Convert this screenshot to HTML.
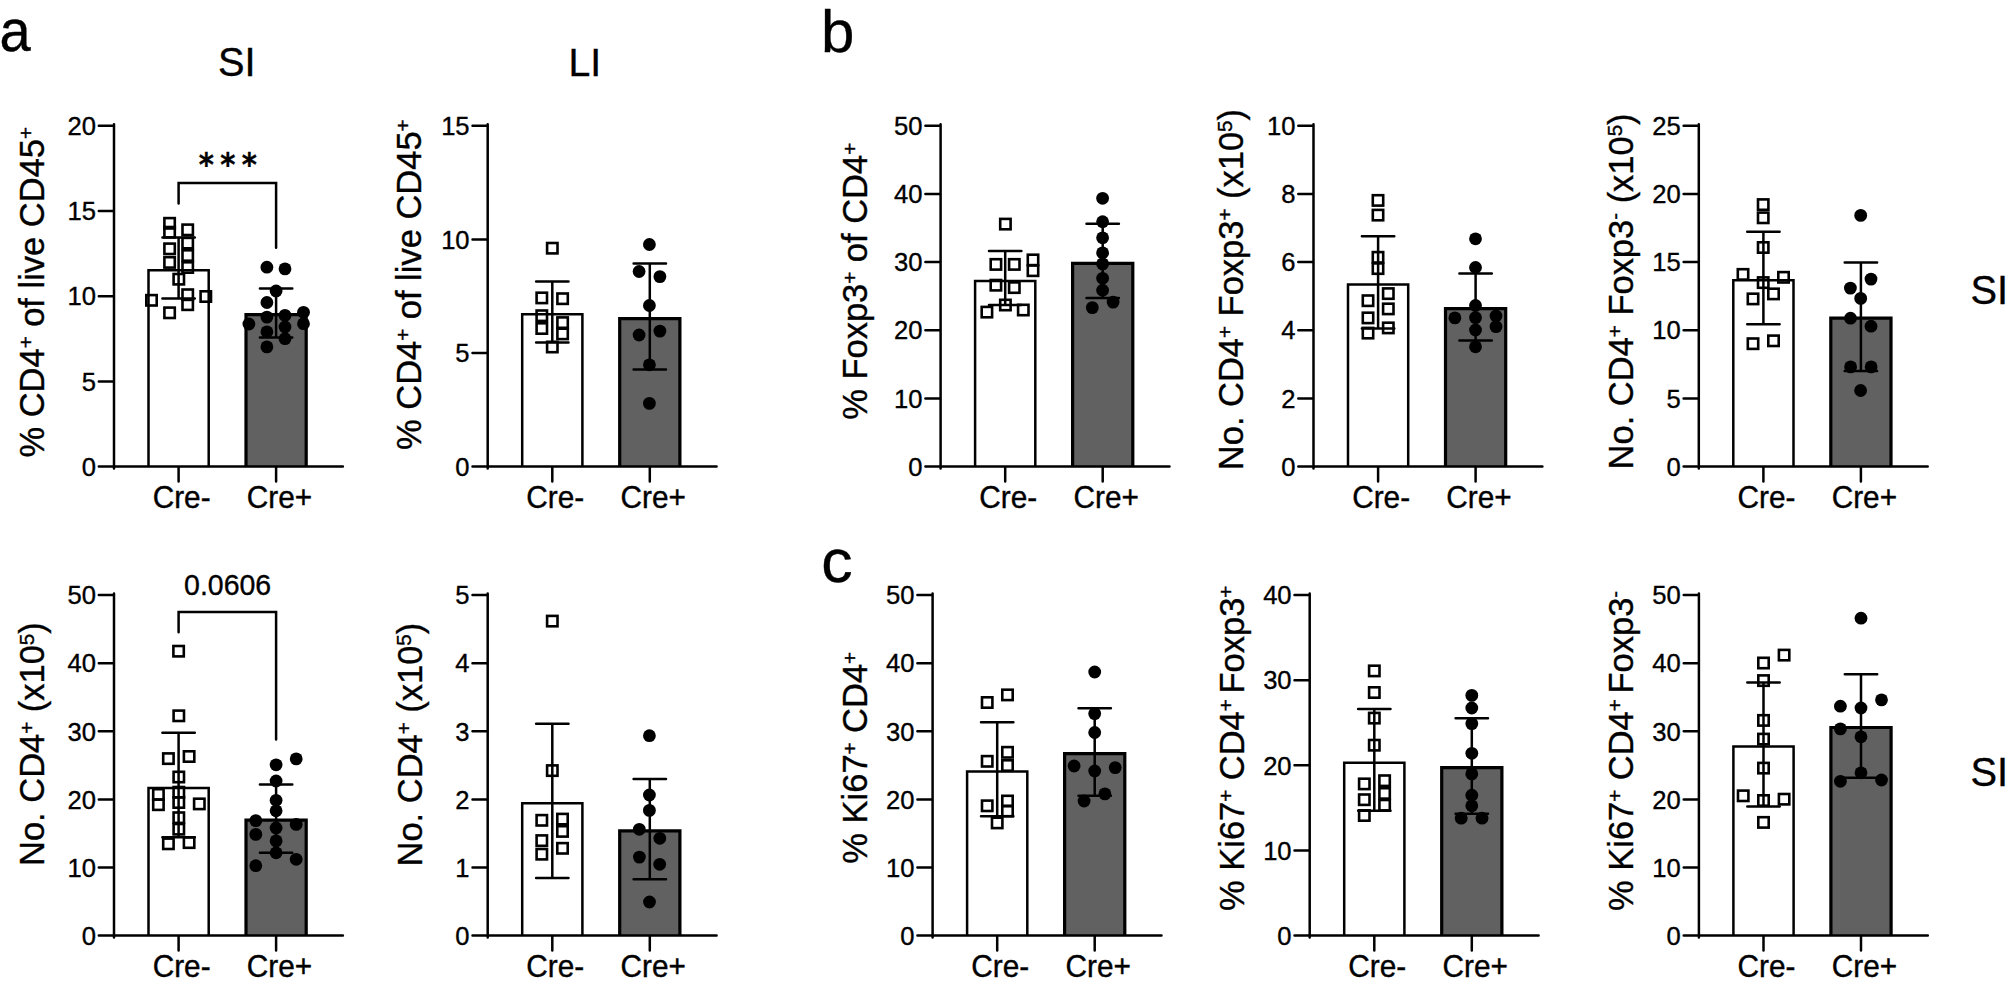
<!DOCTYPE html>
<html lang="en">
<head>
<meta charset="utf-8">
<title>Figure</title>
<style>
html,body{margin:0;padding:0;background:#fff;}
body{width:2006px;height:987px;overflow:hidden;}
svg{display:block;}
svg text{font-family:"Liberation Sans", sans-serif;fill:#000;stroke:#000;stroke-width:0.35px;}
</style>
</head>
<body>
<svg width="2006" height="987" viewBox="0 0 2006 987">
<rect width="2006" height="987" fill="#fff"/>
<path d="M148.5 466.6V270.3H208.7V466.6" fill="#fff" stroke="#000" stroke-width="2.5"/>
<path d="M246 466.6V314.7H306.2V466.6" fill="#616161" stroke="#000" stroke-width="3.2"/>
<rect x="164.4" y="218.1" width="10.4" height="10.4" fill="none" stroke="#000" stroke-width="2.6"/>
<rect x="164.4" y="227" width="10.4" height="10.4" fill="none" stroke="#000" stroke-width="2.6"/>
<rect x="164.4" y="243.6" width="10.4" height="10.4" fill="none" stroke="#000" stroke-width="2.6"/>
<rect x="164.4" y="257.2" width="10.4" height="10.4" fill="none" stroke="#000" stroke-width="2.6"/>
<rect x="164.4" y="307.6" width="10.4" height="10.4" fill="none" stroke="#000" stroke-width="2.6"/>
<rect x="182.5" y="224.6" width="10.4" height="10.4" fill="none" stroke="#000" stroke-width="2.6"/>
<rect x="182.5" y="237.9" width="10.4" height="10.4" fill="none" stroke="#000" stroke-width="2.6"/>
<rect x="182.5" y="250.3" width="10.4" height="10.4" fill="none" stroke="#000" stroke-width="2.6"/>
<rect x="182.5" y="262.3" width="10.4" height="10.4" fill="none" stroke="#000" stroke-width="2.6"/>
<rect x="182.5" y="289.5" width="10.4" height="10.4" fill="none" stroke="#000" stroke-width="2.6"/>
<rect x="182.5" y="299.5" width="10.4" height="10.4" fill="none" stroke="#000" stroke-width="2.6"/>
<rect x="173.6" y="274" width="10.4" height="10.4" fill="none" stroke="#000" stroke-width="2.6"/>
<rect x="146.3" y="295.1" width="10.4" height="10.4" fill="none" stroke="#000" stroke-width="2.6"/>
<rect x="200.6" y="291.3" width="10.4" height="10.4" fill="none" stroke="#000" stroke-width="2.6"/>
<circle cx="266.9" cy="267.2" r="6.4"/>
<circle cx="285" cy="268.9" r="6.4"/>
<circle cx="276.1" cy="291" r="6.4"/>
<circle cx="266.9" cy="302.5" r="6.4"/>
<circle cx="303.5" cy="312.3" r="6.4"/>
<circle cx="266.9" cy="317.1" r="6.4"/>
<circle cx="285" cy="315.4" r="6.4"/>
<circle cx="248.9" cy="324" r="6.4"/>
<circle cx="303.5" cy="323.7" r="6.4"/>
<circle cx="285" cy="327" r="6.4"/>
<circle cx="266.9" cy="331.8" r="6.4"/>
<circle cx="285" cy="338.7" r="6.4"/>
<circle cx="266.9" cy="346.9" r="6.4"/>
<path d="M162.4 237.6H194.8M162.4 298.5H194.8M178.6 237.6V298.5" fill="none" stroke="#000" stroke-width="2.5" stroke-linecap="round"/>
<path d="M259.9 288.4H292.3M259.9 337.5H292.3M276.1 288.4V337.5" fill="none" stroke="#000" stroke-width="2.5" stroke-linecap="round"/>
<path d="M114 124.2V468.4M98.8 466.6H342.9M98.8 125.8H114M98.8 211H114M98.8 296.2H114M98.8 381.4H114M178.6 466.6V481.5M276.1 466.6V481.5" fill="none" stroke="#000" stroke-width="2.5" stroke-linecap="round"/>
<text transform="translate(95.9,135) scale(1,1.04)" font-size="25.6" text-anchor="end">20</text>
<text transform="translate(95.9,220.2) scale(1,1.04)" font-size="25.6" text-anchor="end">15</text>
<text transform="translate(95.9,305.4) scale(1,1.04)" font-size="25.6" text-anchor="end">10</text>
<text transform="translate(95.9,390.6) scale(1,1.04)" font-size="25.6" text-anchor="end">5</text>
<text transform="translate(95.9,475.8) scale(1,1.04)" font-size="25.6" text-anchor="end">0</text>
<text transform="translate(152.65,507.9) scale(1,1.04)" font-size="29.8">Cre-</text>
<text transform="translate(246.85,507.9) scale(1,1.04)" font-size="29.8">Cre+</text>
<path d="M178.6 203.4V183H276.1V247.7" fill="none" stroke="#000" stroke-width="2.5" stroke-linecap="round" stroke-linejoin="miter"/>
<text transform="translate(227.9,159.3) scale(0.89,0.975)" x="-32.66 -8.5 15.55" y="16.57" font-size="32.5" font-weight="bold" stroke="#000" stroke-width="0.75" style="font-family:'DejaVu Sans',sans-serif">***</text>
<text style="white-space:pre" transform="translate(43.8,457.6) rotate(-90) scale(1,1.02)" font-size="34.5">% CD4<tspan dy="-10.15" font-size="20.5">+</tspan><tspan dy="10.15"> of live CD45</tspan><tspan dy="-10.15" font-size="20.5">+</tspan></text>
<path d="M522.2 466.6V314.3H582.4V466.6" fill="#fff" stroke="#000" stroke-width="2.5"/>
<path d="M619.7 466.6V318.6H679.9V466.6" fill="#616161" stroke="#000" stroke-width="3.2"/>
<rect x="547.1" y="243" width="10.4" height="10.4" fill="none" stroke="#000" stroke-width="2.6"/>
<rect x="536.6" y="292.7" width="10.4" height="10.4" fill="none" stroke="#000" stroke-width="2.6"/>
<rect x="557.4" y="293.5" width="10.4" height="10.4" fill="none" stroke="#000" stroke-width="2.6"/>
<rect x="536.6" y="310.5" width="10.4" height="10.4" fill="none" stroke="#000" stroke-width="2.6"/>
<rect x="557.4" y="317.4" width="10.4" height="10.4" fill="none" stroke="#000" stroke-width="2.6"/>
<rect x="536.6" y="323.3" width="10.4" height="10.4" fill="none" stroke="#000" stroke-width="2.6"/>
<rect x="557.4" y="328.7" width="10.4" height="10.4" fill="none" stroke="#000" stroke-width="2.6"/>
<rect x="547.1" y="341.8" width="10.4" height="10.4" fill="none" stroke="#000" stroke-width="2.6"/>
<circle cx="649.4" cy="244.5" r="6.4"/>
<circle cx="639.1" cy="271.5" r="6.4"/>
<circle cx="659.9" cy="276.6" r="6.4"/>
<circle cx="649.4" cy="305.5" r="6.4"/>
<circle cx="659.9" cy="331.1" r="6.4"/>
<circle cx="639.1" cy="335" r="6.4"/>
<circle cx="649.4" cy="364.8" r="6.4"/>
<circle cx="649.4" cy="403.4" r="6.4"/>
<path d="M536.1 281.4H568.5M536.1 342.4H568.5M552.3 281.4V342.4" fill="none" stroke="#000" stroke-width="2.5" stroke-linecap="round"/>
<path d="M633.6 263.5H666M633.6 369.4H666M649.8 263.5V369.4" fill="none" stroke="#000" stroke-width="2.5" stroke-linecap="round"/>
<path d="M487.7 124.2V468.4M472.5 466.6H716.6M472.5 125.8H487.7M472.5 239.4H487.7M472.5 353H487.7M552.3 466.6V481.5M649.8 466.6V481.5" fill="none" stroke="#000" stroke-width="2.5" stroke-linecap="round"/>
<text transform="translate(469.6,135) scale(1,1.04)" font-size="25.6" text-anchor="end">15</text>
<text transform="translate(469.6,248.6) scale(1,1.04)" font-size="25.6" text-anchor="end">10</text>
<text transform="translate(469.6,362.2) scale(1,1.04)" font-size="25.6" text-anchor="end">5</text>
<text transform="translate(469.6,475.8) scale(1,1.04)" font-size="25.6" text-anchor="end">0</text>
<text transform="translate(526.35,507.9) scale(1,1.04)" font-size="29.8">Cre-</text>
<text transform="translate(620.55,507.9) scale(1,1.04)" font-size="29.8">Cre+</text>
<text style="white-space:pre" transform="translate(420.6,450) rotate(-90) scale(1,1.02)" font-size="34.5">% CD4<tspan dy="-10.15" font-size="20.5">+</tspan><tspan dy="10.15"> of live CD45</tspan><tspan dy="-10.15" font-size="20.5">+</tspan></text>
<path d="M148.5 935.6V787.9H208.7V935.6" fill="#fff" stroke="#000" stroke-width="2.5"/>
<path d="M246 935.6V820.1H306.2V935.6" fill="#616161" stroke="#000" stroke-width="3.2"/>
<rect x="173.4" y="646" width="10.4" height="10.4" fill="none" stroke="#000" stroke-width="2.6"/>
<rect x="173.6" y="710.6" width="10.4" height="10.4" fill="none" stroke="#000" stroke-width="2.6"/>
<rect x="163.2" y="753.4" width="10.4" height="10.4" fill="none" stroke="#000" stroke-width="2.6"/>
<rect x="183.9" y="751.3" width="10.4" height="10.4" fill="none" stroke="#000" stroke-width="2.6"/>
<rect x="173.6" y="771.8" width="10.4" height="10.4" fill="none" stroke="#000" stroke-width="2.6"/>
<rect x="173.6" y="787" width="10.4" height="10.4" fill="none" stroke="#000" stroke-width="2.6"/>
<rect x="153.2" y="789.2" width="10.4" height="10.4" fill="none" stroke="#000" stroke-width="2.6"/>
<rect x="173.6" y="797.3" width="10.4" height="10.4" fill="none" stroke="#000" stroke-width="2.6"/>
<rect x="153.2" y="799.5" width="10.4" height="10.4" fill="none" stroke="#000" stroke-width="2.6"/>
<rect x="194.1" y="798.7" width="10.4" height="10.4" fill="none" stroke="#000" stroke-width="2.6"/>
<rect x="173.6" y="812.5" width="10.4" height="10.4" fill="none" stroke="#000" stroke-width="2.6"/>
<rect x="173.6" y="824" width="10.4" height="10.4" fill="none" stroke="#000" stroke-width="2.6"/>
<rect x="163.2" y="838.6" width="10.4" height="10.4" fill="none" stroke="#000" stroke-width="2.6"/>
<rect x="183.9" y="837.4" width="10.4" height="10.4" fill="none" stroke="#000" stroke-width="2.6"/>
<circle cx="296.2" cy="758.9" r="6.4"/>
<circle cx="276.1" cy="764.8" r="6.4"/>
<circle cx="276.1" cy="781" r="6.4"/>
<circle cx="276.1" cy="800.3" r="6.4"/>
<circle cx="276.1" cy="810.8" r="6.4"/>
<circle cx="255.8" cy="820.6" r="6.4"/>
<circle cx="296.2" cy="824.4" r="6.4"/>
<circle cx="276.1" cy="828" r="6.4"/>
<circle cx="255.8" cy="834.4" r="6.4"/>
<circle cx="276.1" cy="840.9" r="6.4"/>
<circle cx="276.1" cy="852.8" r="6.4"/>
<circle cx="296.2" cy="859.3" r="6.4"/>
<circle cx="255.8" cy="865.7" r="6.4"/>
<path d="M162.4 732.7H194.8M162.4 837.3H194.8M178.6 732.7V837.3" fill="none" stroke="#000" stroke-width="2.5" stroke-linecap="round"/>
<path d="M259.9 784.4H292.3M259.9 852.8H292.3M276.1 784.4V852.8" fill="none" stroke="#000" stroke-width="2.5" stroke-linecap="round"/>
<path d="M114 593.5V937.4M98.8 935.6H342.9M98.8 595.1H114M98.8 663.2H114M98.8 731.3H114M98.8 799.4H114M98.8 867.5H114M178.6 935.6V950.5M276.1 935.6V950.5" fill="none" stroke="#000" stroke-width="2.5" stroke-linecap="round"/>
<text transform="translate(95.9,604.3) scale(1,1.04)" font-size="25.6" text-anchor="end">50</text>
<text transform="translate(95.9,672.4) scale(1,1.04)" font-size="25.6" text-anchor="end">40</text>
<text transform="translate(95.9,740.5) scale(1,1.04)" font-size="25.6" text-anchor="end">30</text>
<text transform="translate(95.9,808.6) scale(1,1.04)" font-size="25.6" text-anchor="end">20</text>
<text transform="translate(95.9,876.7) scale(1,1.04)" font-size="25.6" text-anchor="end">10</text>
<text transform="translate(95.9,944.8) scale(1,1.04)" font-size="25.6" text-anchor="end">0</text>
<text transform="translate(152.65,976.7) scale(1,1.04)" font-size="29.8">Cre-</text>
<text transform="translate(246.85,976.7) scale(1,1.04)" font-size="29.8">Cre+</text>
<path d="M178.6 632.2V611.9H276.1V739.4" fill="none" stroke="#000" stroke-width="2.5" stroke-linecap="round" stroke-linejoin="miter"/>
<text transform="translate(227.6,594.6) scale(1,1.04)" font-size="28.5" text-anchor="middle">0.0606</text>
<text style="white-space:pre" transform="translate(44,866) rotate(-90) scale(1,1.02)" font-size="34.5">No. CD4<tspan dy="-10.15" font-size="20.5">+</tspan><tspan dy="10.15"> (x10</tspan><tspan dy="-10.15" font-size="20.5">5</tspan><tspan dy="10.15">)</tspan></text>
<path d="M522.2 935.6V803.2H582.4V935.6" fill="#fff" stroke="#000" stroke-width="2.5"/>
<path d="M619.7 935.6V830.8H679.9V935.6" fill="#616161" stroke="#000" stroke-width="3.2"/>
<rect x="547.1" y="615.9" width="10.4" height="10.4" fill="none" stroke="#000" stroke-width="2.6"/>
<rect x="547.1" y="765.4" width="10.4" height="10.4" fill="none" stroke="#000" stroke-width="2.6"/>
<rect x="536.6" y="815.1" width="10.4" height="10.4" fill="none" stroke="#000" stroke-width="2.6"/>
<rect x="557.3" y="813.9" width="10.4" height="10.4" fill="none" stroke="#000" stroke-width="2.6"/>
<rect x="557.3" y="826.2" width="10.4" height="10.4" fill="none" stroke="#000" stroke-width="2.6"/>
<rect x="536.6" y="835.4" width="10.4" height="10.4" fill="none" stroke="#000" stroke-width="2.6"/>
<rect x="557.3" y="843.1" width="10.4" height="10.4" fill="none" stroke="#000" stroke-width="2.6"/>
<rect x="536.6" y="849" width="10.4" height="10.4" fill="none" stroke="#000" stroke-width="2.6"/>
<circle cx="649.4" cy="735.7" r="6.4"/>
<circle cx="649.4" cy="795" r="6.4"/>
<circle cx="649.4" cy="810.4" r="6.4"/>
<circle cx="639.3" cy="829.3" r="6.4"/>
<circle cx="659.8" cy="838.3" r="6.4"/>
<circle cx="639.4" cy="857.1" r="6.4"/>
<circle cx="659.7" cy="864.3" r="6.4"/>
<circle cx="649.5" cy="902" r="6.4"/>
<path d="M536.1 723.8H568.5M536.1 878H568.5M552.3 723.8V878" fill="none" stroke="#000" stroke-width="2.5" stroke-linecap="round"/>
<path d="M633.6 779.1H666M633.6 879.2H666M649.8 779.1V879.2" fill="none" stroke="#000" stroke-width="2.5" stroke-linecap="round"/>
<path d="M487.7 593.5V937.4M472.5 935.6H716.6M472.5 595.1H487.7M472.5 663.2H487.7M472.5 731.3H487.7M472.5 799.4H487.7M472.5 867.5H487.7M552.3 935.6V950.5M649.8 935.6V950.5" fill="none" stroke="#000" stroke-width="2.5" stroke-linecap="round"/>
<text transform="translate(469.6,604.3) scale(1,1.04)" font-size="25.6" text-anchor="end">5</text>
<text transform="translate(469.6,672.4) scale(1,1.04)" font-size="25.6" text-anchor="end">4</text>
<text transform="translate(469.6,740.5) scale(1,1.04)" font-size="25.6" text-anchor="end">3</text>
<text transform="translate(469.6,808.6) scale(1,1.04)" font-size="25.6" text-anchor="end">2</text>
<text transform="translate(469.6,876.7) scale(1,1.04)" font-size="25.6" text-anchor="end">1</text>
<text transform="translate(469.6,944.8) scale(1,1.04)" font-size="25.6" text-anchor="end">0</text>
<text transform="translate(526.35,976.7) scale(1,1.04)" font-size="29.8">Cre-</text>
<text transform="translate(620.55,976.7) scale(1,1.04)" font-size="29.8">Cre+</text>
<text style="white-space:pre" transform="translate(421.6,866.5) rotate(-90) scale(1,1.02)" font-size="34.5">No. CD4<tspan dy="-10.15" font-size="20.5">+</tspan><tspan dy="10.15"> (x10</tspan><tspan dy="-10.15" font-size="20.5">5</tspan><tspan dy="10.15">)</tspan></text>
<path d="M975.1 466.6V281H1035.3V466.6" fill="#fff" stroke="#000" stroke-width="2.5"/>
<path d="M1072.6 466.6V263.3H1132.8V466.6" fill="#616161" stroke="#000" stroke-width="3.2"/>
<rect x="1000.2" y="218.9" width="10.4" height="10.4" fill="none" stroke="#000" stroke-width="2.6"/>
<rect x="990.7" y="259.2" width="10.4" height="10.4" fill="none" stroke="#000" stroke-width="2.6"/>
<rect x="1009.1" y="259.2" width="10.4" height="10.4" fill="none" stroke="#000" stroke-width="2.6"/>
<rect x="1027.8" y="254.7" width="10.4" height="10.4" fill="none" stroke="#000" stroke-width="2.6"/>
<rect x="1027.8" y="265.5" width="10.4" height="10.4" fill="none" stroke="#000" stroke-width="2.6"/>
<rect x="990.7" y="280" width="10.4" height="10.4" fill="none" stroke="#000" stroke-width="2.6"/>
<rect x="1009.1" y="282.4" width="10.4" height="10.4" fill="none" stroke="#000" stroke-width="2.6"/>
<rect x="1000.2" y="299.8" width="10.4" height="10.4" fill="none" stroke="#000" stroke-width="2.6"/>
<rect x="981.7" y="306.9" width="10.4" height="10.4" fill="none" stroke="#000" stroke-width="2.6"/>
<rect x="1018.1" y="304.8" width="10.4" height="10.4" fill="none" stroke="#000" stroke-width="2.6"/>
<circle cx="1102.6" cy="198.3" r="6.4"/>
<circle cx="1102.6" cy="221.7" r="6.4"/>
<circle cx="1102.6" cy="237.8" r="6.4"/>
<circle cx="1102.6" cy="252.8" r="6.4"/>
<circle cx="1102.6" cy="263.9" r="6.4"/>
<circle cx="1102.6" cy="278.3" r="6.4"/>
<circle cx="1102.6" cy="290.2" r="6.4"/>
<circle cx="1113.1" cy="302.1" r="6.4"/>
<circle cx="1092.3" cy="307.6" r="6.4"/>
<path d="M989 250.9H1021.4M989 305H1021.4M1005.2 250.9V305" fill="none" stroke="#000" stroke-width="2.5" stroke-linecap="round"/>
<path d="M1086.5 223.8H1118.9M1086.5 298.1H1118.9M1102.7 223.8V298.1" fill="none" stroke="#000" stroke-width="2.5" stroke-linecap="round"/>
<path d="M940.6 124.2V468.4M925.4 466.6H1169.5M925.4 125.8H940.6M925.4 193.96H940.6M925.4 262.12H940.6M925.4 330.28H940.6M925.4 398.44H940.6M1005.2 466.6V481.5M1102.7 466.6V481.5" fill="none" stroke="#000" stroke-width="2.5" stroke-linecap="round"/>
<text transform="translate(922.5,135) scale(1,1.04)" font-size="25.6" text-anchor="end">50</text>
<text transform="translate(922.5,203.16) scale(1,1.04)" font-size="25.6" text-anchor="end">40</text>
<text transform="translate(922.5,271.32) scale(1,1.04)" font-size="25.6" text-anchor="end">30</text>
<text transform="translate(922.5,339.48) scale(1,1.04)" font-size="25.6" text-anchor="end">20</text>
<text transform="translate(922.5,407.64) scale(1,1.04)" font-size="25.6" text-anchor="end">10</text>
<text transform="translate(922.5,475.8) scale(1,1.04)" font-size="25.6" text-anchor="end">0</text>
<text transform="translate(979.25,507.9) scale(1,1.04)" font-size="29.8">Cre-</text>
<text transform="translate(1073.45,507.9) scale(1,1.04)" font-size="29.8">Cre+</text>
<text style="white-space:pre" transform="translate(867,419.8) rotate(-90) scale(1,1.02)" font-size="34.5">% Foxp3<tspan dy="-10.15" font-size="20.5">+</tspan><tspan dy="10.15"> of CD4</tspan><tspan dy="-10.15" font-size="20.5">+</tspan></text>
<path d="M1348 466.6V284.4H1408.2V466.6" fill="#fff" stroke="#000" stroke-width="2.5"/>
<path d="M1445.5 466.6V308.6H1505.7V466.6" fill="#616161" stroke="#000" stroke-width="3.2"/>
<rect x="1372.8" y="195.2" width="10.4" height="10.4" fill="none" stroke="#000" stroke-width="2.6"/>
<rect x="1372.8" y="209.9" width="10.4" height="10.4" fill="none" stroke="#000" stroke-width="2.6"/>
<rect x="1372.8" y="252.1" width="10.4" height="10.4" fill="none" stroke="#000" stroke-width="2.6"/>
<rect x="1372.8" y="263.4" width="10.4" height="10.4" fill="none" stroke="#000" stroke-width="2.6"/>
<rect x="1383.1" y="288.4" width="10.4" height="10.4" fill="none" stroke="#000" stroke-width="2.6"/>
<rect x="1362.8" y="295.5" width="10.4" height="10.4" fill="none" stroke="#000" stroke-width="2.6"/>
<rect x="1383.1" y="303.7" width="10.4" height="10.4" fill="none" stroke="#000" stroke-width="2.6"/>
<rect x="1362.8" y="312.7" width="10.4" height="10.4" fill="none" stroke="#000" stroke-width="2.6"/>
<rect x="1383.1" y="322.7" width="10.4" height="10.4" fill="none" stroke="#000" stroke-width="2.6"/>
<rect x="1362.8" y="327.9" width="10.4" height="10.4" fill="none" stroke="#000" stroke-width="2.6"/>
<circle cx="1475.5" cy="238.8" r="6.4"/>
<circle cx="1475.5" cy="267.5" r="6.4"/>
<circle cx="1475.5" cy="305.5" r="6.4"/>
<circle cx="1475.5" cy="317.6" r="6.4"/>
<circle cx="1454.9" cy="317.9" r="6.4"/>
<circle cx="1496" cy="316" r="6.4"/>
<circle cx="1496" cy="326.6" r="6.4"/>
<circle cx="1475.5" cy="330" r="6.4"/>
<circle cx="1475.5" cy="346.8" r="6.4"/>
<path d="M1361.9 236.2H1394.3M1361.9 328.4H1394.3M1378.1 236.2V328.4" fill="none" stroke="#000" stroke-width="2.5" stroke-linecap="round"/>
<path d="M1459.4 273.6H1491.8M1459.4 340.5H1491.8M1475.6 273.6V340.5" fill="none" stroke="#000" stroke-width="2.5" stroke-linecap="round"/>
<path d="M1313.5 124.2V468.4M1298.3 466.6H1542.4M1298.3 125.8H1313.5M1298.3 193.96H1313.5M1298.3 262.12H1313.5M1298.3 330.28H1313.5M1298.3 398.44H1313.5M1378.1 466.6V481.5M1475.6 466.6V481.5" fill="none" stroke="#000" stroke-width="2.5" stroke-linecap="round"/>
<text transform="translate(1295.4,135) scale(1,1.04)" font-size="25.6" text-anchor="end">10</text>
<text transform="translate(1295.4,203.16) scale(1,1.04)" font-size="25.6" text-anchor="end">8</text>
<text transform="translate(1295.4,271.32) scale(1,1.04)" font-size="25.6" text-anchor="end">6</text>
<text transform="translate(1295.4,339.48) scale(1,1.04)" font-size="25.6" text-anchor="end">4</text>
<text transform="translate(1295.4,407.64) scale(1,1.04)" font-size="25.6" text-anchor="end">2</text>
<text transform="translate(1295.4,475.8) scale(1,1.04)" font-size="25.6" text-anchor="end">0</text>
<text transform="translate(1352.15,507.9) scale(1,1.04)" font-size="29.8">Cre-</text>
<text transform="translate(1446.35,507.9) scale(1,1.04)" font-size="29.8">Cre+</text>
<text style="white-space:pre" transform="translate(1242.7,470.2) rotate(-90) scale(1,1.02)" font-size="34.5">No. CD4<tspan dy="-10.15" font-size="20.5">+</tspan><tspan dy="10.15"> Foxp3</tspan><tspan dy="-10.15" font-size="20.5">+</tspan><tspan dy="10.15"> (x10</tspan><tspan dy="-10.15" font-size="20.5">5</tspan><tspan dy="10.15">)</tspan></text>
<path d="M1733.3 466.6V280.2H1793.5V466.6" fill="#fff" stroke="#000" stroke-width="2.5"/>
<path d="M1830.8 466.6V318.1H1891V466.6" fill="#616161" stroke="#000" stroke-width="3.2"/>
<rect x="1758" y="199.4" width="10.4" height="10.4" fill="none" stroke="#000" stroke-width="2.6"/>
<rect x="1758" y="212.6" width="10.4" height="10.4" fill="none" stroke="#000" stroke-width="2.6"/>
<rect x="1758" y="242.3" width="10.4" height="10.4" fill="none" stroke="#000" stroke-width="2.6"/>
<rect x="1737.8" y="269.2" width="10.4" height="10.4" fill="none" stroke="#000" stroke-width="2.6"/>
<rect x="1778.3" y="272.1" width="10.4" height="10.4" fill="none" stroke="#000" stroke-width="2.6"/>
<rect x="1758" y="277.4" width="10.4" height="10.4" fill="none" stroke="#000" stroke-width="2.6"/>
<rect x="1768.3" y="288.7" width="10.4" height="10.4" fill="none" stroke="#000" stroke-width="2.6"/>
<rect x="1747.8" y="293.7" width="10.4" height="10.4" fill="none" stroke="#000" stroke-width="2.6"/>
<rect x="1768.3" y="335.6" width="10.4" height="10.4" fill="none" stroke="#000" stroke-width="2.6"/>
<rect x="1747.8" y="338.5" width="10.4" height="10.4" fill="none" stroke="#000" stroke-width="2.6"/>
<circle cx="1860.7" cy="215.4" r="6.4"/>
<circle cx="1871" cy="279.1" r="6.4"/>
<circle cx="1850.4" cy="288.1" r="6.4"/>
<circle cx="1860.7" cy="298.4" r="6.4"/>
<circle cx="1850.5" cy="318.2" r="6.4"/>
<circle cx="1871" cy="326.2" r="6.4"/>
<circle cx="1850.6" cy="366.9" r="6.4"/>
<circle cx="1871.1" cy="366.9" r="6.4"/>
<circle cx="1860.6" cy="390.5" r="6.4"/>
<path d="M1747.2 231.7H1779.6M1747.2 324.2H1779.6M1763.4 231.7V324.2" fill="none" stroke="#000" stroke-width="2.5" stroke-linecap="round"/>
<path d="M1844.7 262.5H1877.1M1844.7 370.9H1877.1M1860.9 262.5V370.9" fill="none" stroke="#000" stroke-width="2.5" stroke-linecap="round"/>
<path d="M1698.8 124.2V468.4M1683.6 466.6H1927.7M1683.6 125.8H1698.8M1683.6 193.96H1698.8M1683.6 262.12H1698.8M1683.6 330.28H1698.8M1683.6 398.44H1698.8M1763.4 466.6V481.5M1860.9 466.6V481.5" fill="none" stroke="#000" stroke-width="2.5" stroke-linecap="round"/>
<text transform="translate(1680.7,135) scale(1,1.04)" font-size="25.6" text-anchor="end">25</text>
<text transform="translate(1680.7,203.16) scale(1,1.04)" font-size="25.6" text-anchor="end">20</text>
<text transform="translate(1680.7,271.32) scale(1,1.04)" font-size="25.6" text-anchor="end">15</text>
<text transform="translate(1680.7,339.48) scale(1,1.04)" font-size="25.6" text-anchor="end">10</text>
<text transform="translate(1680.7,407.64) scale(1,1.04)" font-size="25.6" text-anchor="end">5</text>
<text transform="translate(1680.7,475.8) scale(1,1.04)" font-size="25.6" text-anchor="end">0</text>
<text transform="translate(1737.45,507.9) scale(1,1.04)" font-size="29.8">Cre-</text>
<text transform="translate(1831.65,507.9) scale(1,1.04)" font-size="29.8">Cre+</text>
<text style="white-space:pre" transform="translate(1632.7,469.4) rotate(-90) scale(1,1.02)" font-size="34.5">No. CD4<tspan dy="-10.15" font-size="20.5">+</tspan><tspan dy="10.15"> Foxp3</tspan><tspan dy="-10.15" font-size="20.5">-</tspan><tspan dy="10.15"> (x10</tspan><tspan dy="-10.15" font-size="20.5">5</tspan><tspan dy="10.15">)</tspan></text>
<path d="M967.1 935.6V771.5H1027.3V935.6" fill="#fff" stroke="#000" stroke-width="2.5"/>
<path d="M1064.6 935.6V753.6H1124.8V935.6" fill="#616161" stroke="#000" stroke-width="3.2"/>
<rect x="1002.3" y="689.7" width="10.4" height="10.4" fill="none" stroke="#000" stroke-width="2.6"/>
<rect x="982" y="697.3" width="10.4" height="10.4" fill="none" stroke="#000" stroke-width="2.6"/>
<rect x="1002.3" y="747.1" width="10.4" height="10.4" fill="none" stroke="#000" stroke-width="2.6"/>
<rect x="982" y="756.1" width="10.4" height="10.4" fill="none" stroke="#000" stroke-width="2.6"/>
<rect x="1002.3" y="760.3" width="10.4" height="10.4" fill="none" stroke="#000" stroke-width="2.6"/>
<rect x="1002.3" y="795.8" width="10.4" height="10.4" fill="none" stroke="#000" stroke-width="2.6"/>
<rect x="982" y="800.6" width="10.4" height="10.4" fill="none" stroke="#000" stroke-width="2.6"/>
<rect x="1002.3" y="805.8" width="10.4" height="10.4" fill="none" stroke="#000" stroke-width="2.6"/>
<rect x="992" y="817.7" width="10.4" height="10.4" fill="none" stroke="#000" stroke-width="2.6"/>
<circle cx="1094.7" cy="672" r="6.4"/>
<circle cx="1094.7" cy="713.6" r="6.4"/>
<circle cx="1094.7" cy="732.5" r="6.4"/>
<circle cx="1074.1" cy="766" r="6.4"/>
<circle cx="1115.2" cy="767.6" r="6.4"/>
<circle cx="1094.7" cy="771" r="6.4"/>
<circle cx="1104.9" cy="793.9" r="6.4"/>
<circle cx="1084.1" cy="801" r="6.4"/>
<path d="M981 722.3H1013.4M981 816.3H1013.4M997.2 722.3V816.3" fill="none" stroke="#000" stroke-width="2.5" stroke-linecap="round"/>
<path d="M1078.5 708.3H1110.9M1078.5 795.8H1110.9M1094.7 708.3V795.8" fill="none" stroke="#000" stroke-width="2.5" stroke-linecap="round"/>
<path d="M932.6 593.5V937.4M917.4 935.6H1161.5M917.4 595.1H932.6M917.4 663.2H932.6M917.4 731.3H932.6M917.4 799.4H932.6M917.4 867.5H932.6M997.2 935.6V950.5M1094.7 935.6V950.5" fill="none" stroke="#000" stroke-width="2.5" stroke-linecap="round"/>
<text transform="translate(914.5,604.3) scale(1,1.04)" font-size="25.6" text-anchor="end">50</text>
<text transform="translate(914.5,672.4) scale(1,1.04)" font-size="25.6" text-anchor="end">40</text>
<text transform="translate(914.5,740.5) scale(1,1.04)" font-size="25.6" text-anchor="end">30</text>
<text transform="translate(914.5,808.6) scale(1,1.04)" font-size="25.6" text-anchor="end">20</text>
<text transform="translate(914.5,876.7) scale(1,1.04)" font-size="25.6" text-anchor="end">10</text>
<text transform="translate(914.5,944.8) scale(1,1.04)" font-size="25.6" text-anchor="end">0</text>
<text transform="translate(971.25,976.7) scale(1,1.04)" font-size="29.8">Cre-</text>
<text transform="translate(1065.45,976.7) scale(1,1.04)" font-size="29.8">Cre+</text>
<text style="white-space:pre" transform="translate(867,863.7) rotate(-90) scale(1,1.02)" font-size="34.5">% Ki67<tspan dy="-10.15" font-size="20.5">+</tspan><tspan dy="10.15"> CD4</tspan><tspan dy="-10.15" font-size="20.5">+</tspan></text>
<path d="M1344.2 935.6V762.8H1404.4V935.6" fill="#fff" stroke="#000" stroke-width="2.5"/>
<path d="M1441.7 935.6V767.6H1501.9V935.6" fill="#616161" stroke="#000" stroke-width="3.2"/>
<rect x="1369.1" y="665.7" width="10.4" height="10.4" fill="none" stroke="#000" stroke-width="2.6"/>
<rect x="1369.1" y="687.3" width="10.4" height="10.4" fill="none" stroke="#000" stroke-width="2.6"/>
<rect x="1369.1" y="712.9" width="10.4" height="10.4" fill="none" stroke="#000" stroke-width="2.6"/>
<rect x="1369.1" y="740" width="10.4" height="10.4" fill="none" stroke="#000" stroke-width="2.6"/>
<rect x="1379.4" y="775.5" width="10.4" height="10.4" fill="none" stroke="#000" stroke-width="2.6"/>
<rect x="1359.1" y="778.7" width="10.4" height="10.4" fill="none" stroke="#000" stroke-width="2.6"/>
<rect x="1379.4" y="788.2" width="10.4" height="10.4" fill="none" stroke="#000" stroke-width="2.6"/>
<rect x="1359.1" y="794.5" width="10.4" height="10.4" fill="none" stroke="#000" stroke-width="2.6"/>
<rect x="1379.4" y="800" width="10.4" height="10.4" fill="none" stroke="#000" stroke-width="2.6"/>
<rect x="1359.1" y="810.3" width="10.4" height="10.4" fill="none" stroke="#000" stroke-width="2.6"/>
<circle cx="1471.8" cy="695.4" r="6.4"/>
<circle cx="1471.8" cy="708" r="6.4"/>
<circle cx="1471.8" cy="723.6" r="6.4"/>
<circle cx="1471.8" cy="753.3" r="6.4"/>
<circle cx="1471.8" cy="773.9" r="6.4"/>
<circle cx="1471.8" cy="795.2" r="6.4"/>
<circle cx="1471.8" cy="805.8" r="6.4"/>
<circle cx="1461.2" cy="818.2" r="6.4"/>
<circle cx="1482" cy="818.2" r="6.4"/>
<path d="M1358.1 709.1H1390.5M1358.1 810.8H1390.5M1374.3 709.1V810.8" fill="none" stroke="#000" stroke-width="2.5" stroke-linecap="round"/>
<path d="M1455.6 718.3H1488M1455.6 813.7H1488M1471.8 718.3V813.7" fill="none" stroke="#000" stroke-width="2.5" stroke-linecap="round"/>
<path d="M1309.7 593.5V937.4M1294.5 935.6H1538.6M1294.5 595.1H1309.7M1294.5 680.23H1309.7M1294.5 765.35H1309.7M1294.5 850.48H1309.7M1374.3 935.6V950.5M1471.8 935.6V950.5" fill="none" stroke="#000" stroke-width="2.5" stroke-linecap="round"/>
<text transform="translate(1291.6,604.3) scale(1,1.04)" font-size="25.6" text-anchor="end">40</text>
<text transform="translate(1291.6,689.43) scale(1,1.04)" font-size="25.6" text-anchor="end">30</text>
<text transform="translate(1291.6,774.55) scale(1,1.04)" font-size="25.6" text-anchor="end">20</text>
<text transform="translate(1291.6,859.68) scale(1,1.04)" font-size="25.6" text-anchor="end">10</text>
<text transform="translate(1291.6,944.8) scale(1,1.04)" font-size="25.6" text-anchor="end">0</text>
<text transform="translate(1348.35,976.7) scale(1,1.04)" font-size="29.8">Cre-</text>
<text transform="translate(1442.55,976.7) scale(1,1.04)" font-size="29.8">Cre+</text>
<text style="white-space:pre" transform="translate(1243.6,911) rotate(-90) scale(1,1.02)" font-size="34.5">% Ki67<tspan dy="-10.15" font-size="20.5">+</tspan><tspan dy="10.15"> CD4</tspan><tspan dy="-10.15" font-size="20.5">+ </tspan><tspan dy="10.15">Foxp3</tspan><tspan dy="-10.15" font-size="20.5">+</tspan></text>
<path d="M1733.4 935.6V746.5H1793.6V935.6" fill="#fff" stroke="#000" stroke-width="2.5"/>
<path d="M1830.9 935.6V727.5H1891.1V935.6" fill="#616161" stroke="#000" stroke-width="3.2"/>
<rect x="1778.9" y="649.9" width="10.4" height="10.4" fill="none" stroke="#000" stroke-width="2.6"/>
<rect x="1758.3" y="657.8" width="10.4" height="10.4" fill="none" stroke="#000" stroke-width="2.6"/>
<rect x="1758.3" y="675.4" width="10.4" height="10.4" fill="none" stroke="#000" stroke-width="2.6"/>
<rect x="1758.3" y="715.2" width="10.4" height="10.4" fill="none" stroke="#000" stroke-width="2.6"/>
<rect x="1758.3" y="733.9" width="10.4" height="10.4" fill="none" stroke="#000" stroke-width="2.6"/>
<rect x="1758.3" y="762.9" width="10.4" height="10.4" fill="none" stroke="#000" stroke-width="2.6"/>
<rect x="1738" y="790.6" width="10.4" height="10.4" fill="none" stroke="#000" stroke-width="2.6"/>
<rect x="1758.3" y="795.3" width="10.4" height="10.4" fill="none" stroke="#000" stroke-width="2.6"/>
<rect x="1778.9" y="794" width="10.4" height="10.4" fill="none" stroke="#000" stroke-width="2.6"/>
<rect x="1758.3" y="817.2" width="10.4" height="10.4" fill="none" stroke="#000" stroke-width="2.6"/>
<circle cx="1861" cy="618.2" r="6.4"/>
<circle cx="1881.5" cy="699.9" r="6.4"/>
<circle cx="1840.4" cy="706.2" r="6.4"/>
<circle cx="1861" cy="708" r="6.4"/>
<circle cx="1840.4" cy="728.9" r="6.4"/>
<circle cx="1861" cy="736.8" r="6.4"/>
<circle cx="1861" cy="772.8" r="6.4"/>
<circle cx="1840.4" cy="781.3" r="6.4"/>
<circle cx="1881.5" cy="780" r="6.4"/>
<path d="M1747.3 682.5H1779.7M1747.3 806.6H1779.7M1763.5 682.5V806.6" fill="none" stroke="#000" stroke-width="2.5" stroke-linecap="round"/>
<path d="M1844.8 674.3H1877.2M1844.8 777.8H1877.2M1861 674.3V777.8" fill="none" stroke="#000" stroke-width="2.5" stroke-linecap="round"/>
<path d="M1698.9 593.5V937.4M1683.7 935.6H1927.8M1683.7 595.1H1698.9M1683.7 663.2H1698.9M1683.7 731.3H1698.9M1683.7 799.4H1698.9M1683.7 867.5H1698.9M1763.5 935.6V950.5M1861 935.6V950.5" fill="none" stroke="#000" stroke-width="2.5" stroke-linecap="round"/>
<text transform="translate(1680.8,604.3) scale(1,1.04)" font-size="25.6" text-anchor="end">50</text>
<text transform="translate(1680.8,672.4) scale(1,1.04)" font-size="25.6" text-anchor="end">40</text>
<text transform="translate(1680.8,740.5) scale(1,1.04)" font-size="25.6" text-anchor="end">30</text>
<text transform="translate(1680.8,808.6) scale(1,1.04)" font-size="25.6" text-anchor="end">20</text>
<text transform="translate(1680.8,876.7) scale(1,1.04)" font-size="25.6" text-anchor="end">10</text>
<text transform="translate(1680.8,944.8) scale(1,1.04)" font-size="25.6" text-anchor="end">0</text>
<text transform="translate(1737.55,976.7) scale(1,1.04)" font-size="29.8">Cre-</text>
<text transform="translate(1831.75,976.7) scale(1,1.04)" font-size="29.8">Cre+</text>
<text style="white-space:pre" transform="translate(1632.7,911) rotate(-90) scale(1,1.02)" font-size="34.5">% Ki67<tspan dy="-10.15" font-size="20.5">+</tspan><tspan dy="10.15"> CD4</tspan><tspan dy="-10.15" font-size="20.5">+ </tspan><tspan dy="10.15">Foxp3</tspan><tspan dy="-10.15" font-size="20.5">-</tspan></text>
<text transform="translate(-0.4,51.1) scale(0.94,1)" font-size="59.6" stroke="#000" stroke-width="0.6">a</text>
<text transform="translate(821,52) scale(1,1)" font-size="60" stroke="#000" stroke-width="0.5">b</text>
<text transform="translate(821.2,582.4) scale(1.04,1)" font-size="60.3" stroke="#000" stroke-width="0.5">c</text>
<text transform="translate(217.9,76.1) scale(1,1.02)" font-size="39.8">SI</text>
<text transform="translate(568.4,75.8) scale(1,1)" font-size="39.2">LI</text>
<text transform="translate(1970.5,304) scale(1,1.02)" font-size="39.8">SI</text>
<text transform="translate(1970.5,786) scale(1,1.02)" font-size="39.8">SI</text>
</svg>
</body>
</html>
